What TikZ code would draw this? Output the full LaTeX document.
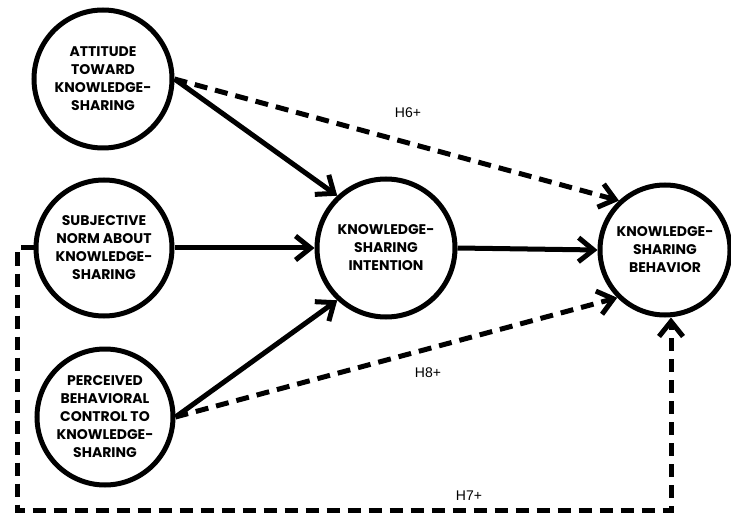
\documentclass[tikz,border=0pt]{standalone}
\usepackage{fontspec}
\setmainfont{Poppins}
\newfontfamily\hlabelfont{Liberation Sans}
\usetikzlibrary{arrows.meta}
\begin{document}
\begin{tikzpicture}[x=1pt,y=-1pt,
  construct/.style={circle,draw,line width=5pt,inner sep=0pt,align=center,
    font=\fontsize{14}{18}\selectfont\bfseries},
  path/.style={line width=5pt,-{Straight Barb[length=15pt,width=24pt,line width=5pt]}},
  hyp/.style={path,dash pattern=on 13pt off 8pt},
  hlabel/.style={font=\hlabelfont\fontsize{14}{16}\selectfont}]
\useasboundingbox (0,0) rectangle (731,513);
% constructs
\node[construct,minimum size=138pt] (att) at (103,79) {ATTITUDE\\TOWARD\\KNOWLEDGE-\\SHARING};
\node[construct,minimum size=136pt] (sub) at (104,248) {SUBJECTIVE\\NORM ABOUT\\KNOWLEDGE-\\SHARING};
\node[construct,minimum size=136pt] (per) at (105,417) {PERCEIVED\\BEHAVIORAL\\CONTROL TO\\KNOWLEDGE-\\SHARING};
\node[construct,minimum size=138pt] (int) at (386,248) {KNOWLEDGE-\\SHARING\\INTENTION};
\node[construct,minimum size=130pt] (beh) at (665,250) {KNOWLEDGE-\\SHARING\\BEHAVIOR};
% hypotheses
\draw[path] (att.east) -- (int.133);
\draw[path] (sub.east) -- (int.west);
\draw[path] (per.east) -- (int.227);
\draw[path] (int.east) -- (beh.west);
\draw[hyp] (att.east) -- (beh.133);
\draw[hyp] (per.east) -- (beh.225);
\coordinate (c1) at (17,248);
\coordinate (c2) at (17,510);
\coordinate (c3) at (671,510);
\draw[hyp] (sub.west) -- (c1) -- (c2) -- (c3) -- (c3 |- beh.south);
\node[hlabel] (h6) at (408,113) {H6+};
\node[hlabel] (h8) at (428,373) {H8+};
\node[hlabel] (h7) at (469,496) {H7+};
\end{tikzpicture}
\end{document}
